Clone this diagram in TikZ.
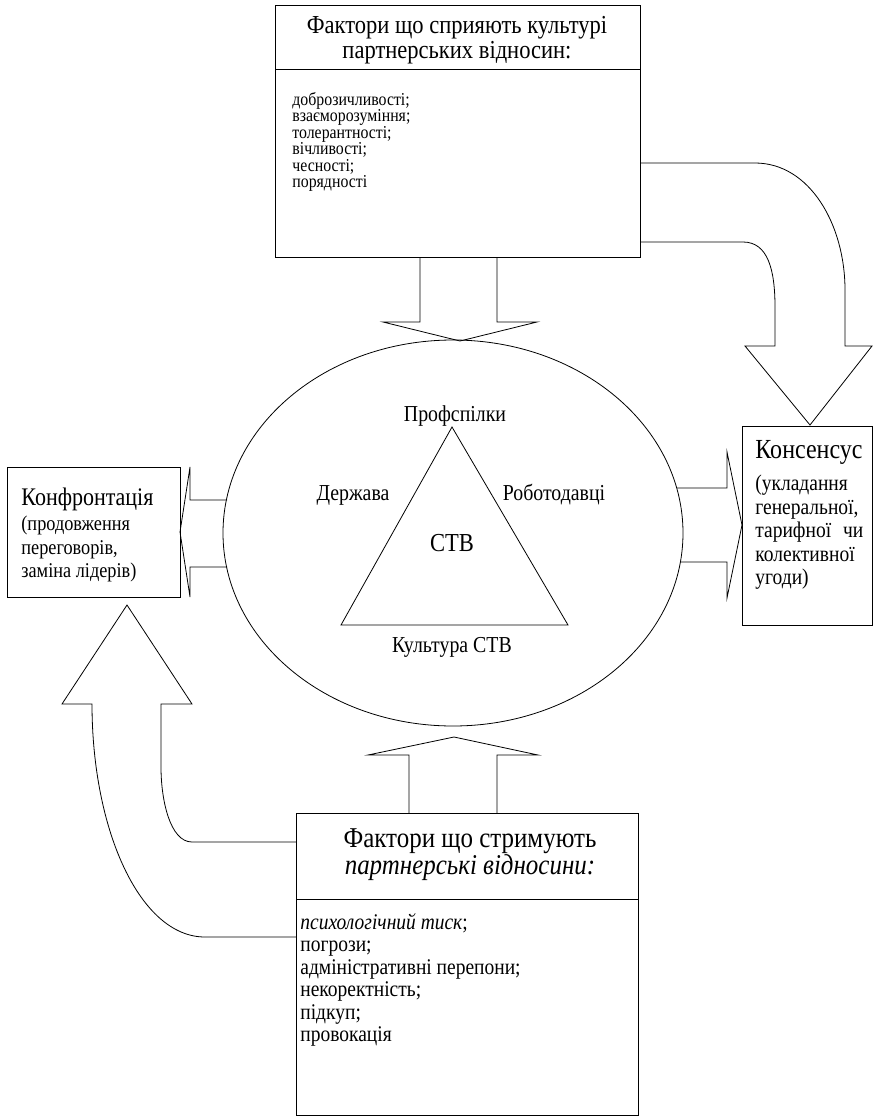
\documentclass[tikz,border=0pt]{standalone}
\usepackage{fontspec}
\setmainfont{Liberation Serif}[FakeStretch=0.87]
\usetikzlibrary{shapes.geometric}

\begin{document}
\begin{tikzpicture}[x=1pt, y=-1pt, line width=0.8pt,
  box/.style={draw, rectangle, anchor=north west, inner sep=0pt},
  txt/.style={inner sep=0pt, align=left, anchor=north west},
  lbl/.style={inner sep=0pt, font=\fontsize{22.8}{24}\selectfont}]

\useasboundingbox (0, 0) rectangle (875, 1119);

% boxes
\node [box, minimum width=365pt, minimum height=252pt] (top) at (275, 5) {};
\node [box, minimum width=173pt, minimum height=130pt] (conf) at (7, 467) {};
\node [box, minimum width=130pt, minimum height=199pt] (cons) at (742, 426) {};
\node [box, minimum width=342pt, minimum height=302pt] (bot) at (296, 813) {};
\node [draw, ellipse, minimum width=460pt, minimum height=386pt, inner sep=0pt] (stv) at (453, 533) {};

\draw (275, 69) -- (640, 69);
\draw (296, 899) -- (638, 899);

% texts
\node [align=center, inner sep=0pt, font=\fontsize{25.9}{25}\selectfont] (toptitle) at (457, 40)
  {Фактори що сприяють культурі\\партнерських відносин:};
\node [txt, font=\fontsize{18.2}{16.5}\selectfont] (toplist) at (292, 92)
  {доброзичливості;\\взаєморозуміння;\\толерантності;\\вічливості;\\чесності;\\порядності};

\node [txt, font=\fontsize{25.3}{26}\selectfont] (conftitle) at (21, 488) {Конфронтація};
\node [txt, font=\fontsize{21}{23.5}\selectfont] (conftext) at (21, 516)
  {(продовження\\переговорів,\\заміна лідерів)};

\node [txt, font=\fontsize{27.6}{28}\selectfont] (constitle) at (755, 440) {Консенсус};
\node [txt, text width=108pt, font=\fontsize{22.4}{23.5}\selectfont] (constext) at (755, 475)
  {(укладання\\генеральної,\\тарифної\hfill чи\\колективної\\угоди)};

\node [align=center, inner sep=0pt, font=\fontsize{28.7}{27}\selectfont] (bottitle) at (470, 855)
  {Фактори що стримують\\\textit{партнерські відносини:}};
\node [txt, font=\fontsize{22.4}{22.5}\selectfont] (botlist) at (300, 913)
  {\textit{психологічний тиск};\\погрози;\\адміністративні перепони;\\некоректність;\\підкуп;\\провокація};

% triangle
\coordinate (apex) at (452, 427);
\coordinate (left) at (341, 625);
\coordinate (right) at (568, 625);
\draw (apex) -- (right) -- (left) -- cycle;

\node [lbl] (prof) at (455, 416) {Профспілки};
\node [lbl] (derzh) at (353, 495) {Держава};
\node [lbl] (robot) at (554, 495) {Роботодавці};
\node [inner sep=0pt, font=\fontsize{25.9}{27}\selectfont] (ctb) at (452, 543) {СТВ};
\node [lbl] (kult) at (452, 647) {Культура СТВ};

% block arrows
\draw (420, 257) -- (420, 322) -- (383, 322) -- (460, 341) -- (537, 322) -- (497, 322) -- (497, 257);
\draw (227, 500) -- (190, 500) -- (190, 467) -- (180, 532) -- (190, 597) -- (190, 567) -- (227, 567);
\draw (677, 488) -- (727, 488) -- (727, 452) -- (742, 525) -- (727, 598) -- (727, 562) -- (680, 562);
\draw (409, 813) -- (409, 755) -- (368, 755) -- (454, 737) -- (538, 755) -- (497, 755) -- (497, 813);

\draw (640, 163) -- (755, 163) .. controls (810, 163) and (845, 225) .. (845, 290)
  -- (845, 346) -- (872, 346) -- (810, 425) -- (745, 346) -- (775, 346) -- (775, 307)
  .. controls (775, 270) and (768, 242) .. (743, 242) -- (640, 242);

\draw (296, 842) -- (192, 842) .. controls (170, 842) and (161, 800) .. (161, 767)
  -- (161, 704) -- (192, 704) -- (127, 605) -- (62, 704) -- (92, 704)
  .. controls (92, 830) and (140, 937) .. (205, 937) -- (296, 937);

\end{tikzpicture}
\end{document}
